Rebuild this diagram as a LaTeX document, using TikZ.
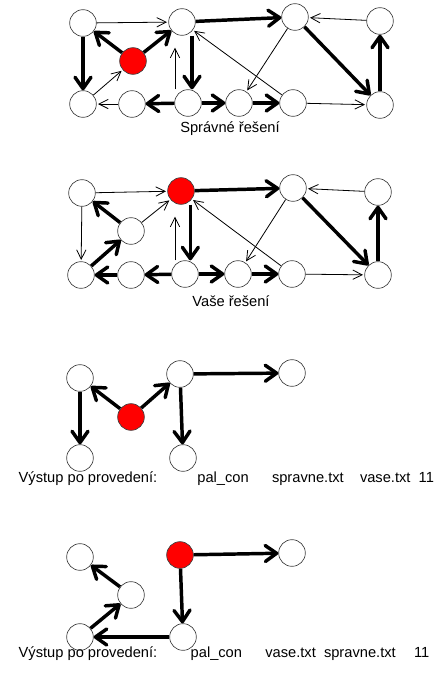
\documentclass[tikz,border=0pt]{standalone}
\usepackage{fontspec}
\setmainfont{Liberation Sans}
\usepackage{tikz}
\usepackage{xcolor}
\usetikzlibrary{arrows.meta, calc}
\definecolor{rim}{HTML}{404040}
\definecolor{rootred}{HTML}{FF0000}
\tikzstyle{vertex} = [circle, minimum size=20pt, inner sep=0pt,
                      draw=rim, fill=white, line width=0.5pt]
\tikzstyle{root} = [vertex, fill=rootred]
\tikzstyle{link} = [-{Straight Barb[length=7pt, width=7pt]}, line width=0.6pt, shorten >=1pt]
\tikzstyle{tree} = [-{Straight Barb[length=8.5pt, width=12pt, round]}, line width=2.6pt]
\tikzstyle{caption} = [font=\fontsize{11}{13}\selectfont]

\begin{document}
\begin{tikzpicture}[x=0.75pt, y=-0.75pt]
    \useasboundingbox (0,0) rectangle (438,700);

    % Correct solution
    \node[vertex] (a1) at (83,23) {};
    \node[vertex] (b1) at (182,22) {};
    \node[vertex] (c1) at (295,17) {};
    \node[vertex] (d1) at (380,21) {};
    \node[root]   (r1) at (133,61) {};
    \node[vertex] (e1) at (83,104) {};
    \node[vertex] (f1) at (132,104) {};
    \node[vertex] (g1) at (188,103) {};
    \node[vertex] (h1) at (239,103) {};
    \node[vertex] (i1) at (293,103) {};
    \node[vertex] (j1) at (380,105) {};
    \node[caption] (t1) at (230,129) {Správné řešení};

    \draw[link] (a1) -- (b1);
    \draw[link] (d1) -- (c1);
    \draw[link] (e1) -- (r1);
    \draw[link] (f1) -- (e1);
    \draw[link] (i1) -- (b1);
    \draw[link] (c1) -- (h1);
    \draw[link] (i1) -- (j1);
    \draw[link, shorten >=9pt] ([xshift=-9.75pt]g1.north) -- ([xshift=-9.75pt]g1.north |- b1.south);
    \draw[tree] (b1) -- (c1);
    \draw[tree] (c1) -- (j1);
    \draw[tree] (j1) -- (d1);
    \draw[tree] (r1) -- (a1);
    \draw[tree] (r1) -- (b1);
    \draw[tree] (a1) -- (e1);
    \draw[tree] ([xshift=7.5pt]b1.south) -- ([xshift=7.5pt]b1.south |- g1.north);
    \draw[tree] (g1) -- (f1);
    \draw[tree] (g1) -- (h1);
    \draw[tree] (h1) -- (i1);

    % Your solution
    \node[vertex] (a2) at (82,193) {};
    \node[root]   (b2) at (181,191) {};
    \node[vertex] (c2) at (293,188) {};
    \node[vertex] (d2) at (378,192) {};
    \node[vertex] (k2) at (131,231) {};
    \node[vertex] (e2) at (81,275) {};
    \node[vertex] (f2) at (131,275) {};
    \node[vertex] (g2) at (185,274) {};
    \node[vertex] (h2) at (238,274) {};
    \node[vertex] (i2) at (292,274) {};
    \node[vertex] (j2) at (378,275) {};
    \node[caption] (t2) at (231,301) {Vaše řešení};

    \draw[link] (a2) -- (b2);
    \draw[link] (d2) -- (c2);
    \draw[link] (k2) -- (b2);
    \draw[link] (a2) -- (e2);
    \draw[link] (i2) -- (b2);
    \draw[link] (c2) -- (h2);
    \draw[link] (i2) -- (j2);
    \draw[link, shorten >=9pt] ([xshift=-7.5pt]g2.north) -- ([xshift=-7.5pt]g2.north |- b2.south);
    \draw[tree] (b2) -- (c2);
    \draw[tree] (c2) -- (j2);
    \draw[tree] (j2) -- (d2);
    \draw[tree] (k2) -- (a2);
    \draw[tree] (e2) -- (k2);
    \draw[tree] ([xshift=7pt]b2.south) -- ([xshift=7pt]b2.south |- g2.north);
    \draw[tree] (f2) -- (e2);
    \draw[tree] (g2) -- (f2);
    \draw[tree] (g2) -- (h2);
    \draw[tree] (h2) -- (i2);

    % Output: correct vs. yours
    \node[vertex] (p3) at (80,378) {};
    \node[vertex] (q3) at (180,374) {};
    \node[vertex] (s3) at (292,373) {};
    \node[root]   (r3) at (131,417) {};
    \node[vertex] (u3) at (80,458) {};
    \node[vertex] (v3) at (183,458) {};
    \node[caption, anchor=west] (t3) at (14,479)
        {\makebox[134pt][l]{Výstup po provedení:}\makebox[56pt][l]{pal\_con}\makebox[66pt][l]{spravne.txt}\makebox[44pt][l]{vase.txt}11};

    \draw[tree] (r3) -- (p3);
    \draw[tree] (r3) -- (q3);
    \draw[tree] (q3) -- (s3);
    \draw[tree] (p3) -- (u3);
    \draw[tree] (q3) -- (v3);

    % Output: yours vs. correct
    \node[vertex] (p4) at (80,557) {};
    \node[root]   (r4) at (180,555) {};
    \node[vertex] (s4) at (292,553) {};
    \node[vertex] (k4) at (131,595) {};
    \node[vertex] (u4) at (80,637) {};
    \node[vertex] (v4) at (183,637) {};
    \node[caption, anchor=west] (t4) at (14,654)
        {\makebox[129pt][l]{Výstup po provedení:}\makebox[56pt][l]{pal\_con}\makebox[44pt][l]{vase.txt}\makebox[67.5pt][l]{spravne.txt}11};

    \draw[tree] (k4) -- (p4);
    \draw[tree] (u4) -- (k4);
    \draw[tree] (r4) -- (s4);
    \draw[tree] (r4) -- (v4);
    \draw[tree] (v4) -- (u4);
\end{tikzpicture}
\end{document}
